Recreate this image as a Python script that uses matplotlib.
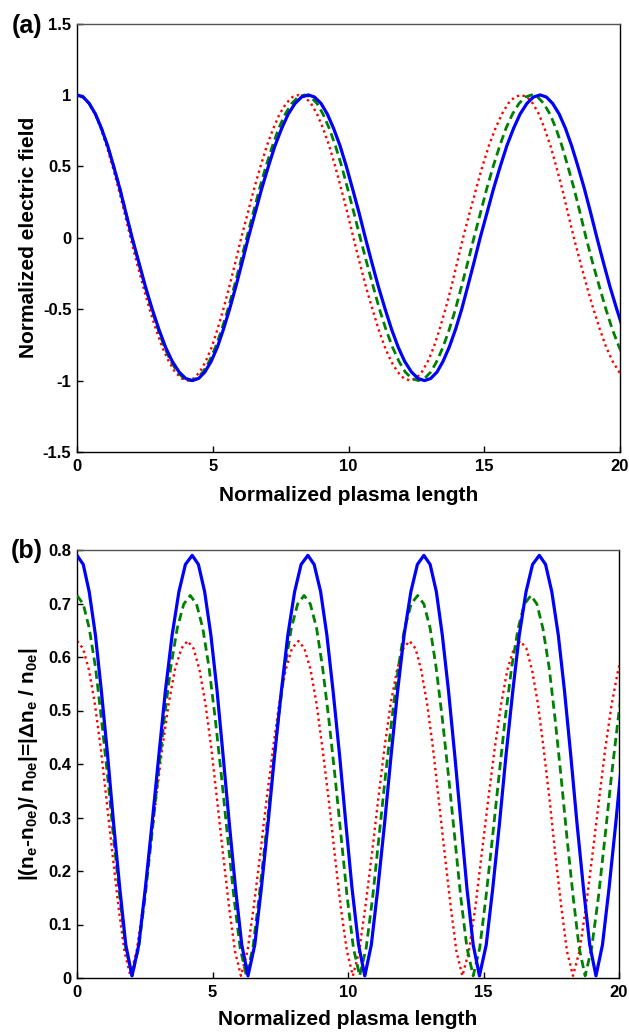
import matplotlib
matplotlib.use("Agg")
import matplotlib.pyplot as plt

plt.rcParams['font.family'] = ['Liberation Sans', 'DejaVu Sans']
plt.rcParams['mathtext.fontset'] = 'custom'
plt.rcParams['mathtext.rm'] = 'Liberation Sans:bold'
plt.rcParams['mathtext.it'] = 'Liberation Sans:bold'
plt.rcParams['mathtext.bf'] = 'Liberation Sans:bold'

# ---------------- data ----------------
x_ticks = [0, 5, 10, 15, 20]
ya_ticks = [-1.5, -1, -0.5, 0, 0.5, 1, 1.5]
ya_labels = ['-1.5', '-1', '-0.5', '0', '0.5', '1', '1.5']
yb_ticks = [0, 0.1, 0.2, 0.3, 0.4, 0.5, 0.6, 0.7, 0.8]
yb_labels = ['0', '0.1', '0.2', '0.3', '0.4', '0.5', '0.6', '0.7', '0.8']

blue_x = [0, 0.23, 0.45, 0.68, 0.90, 1.13, 1.35, 1.58, 1.80, 2.03,
          2.28, 2.52, 2.77, 3.02, 3.26, 3.51, 3.76, 4.00, 4.25,
          4.48, 4.71, 4.94, 5.17, 5.39, 5.62, 5.85, 6.08, 6.31,
          6.56, 6.80, 7.05, 7.29, 7.54, 7.78, 8.03, 8.27, 8.52,
          8.75, 8.99, 9.22, 9.45, 9.69, 9.92, 10.15, 10.39, 10.62,
          10.86, 11.10, 11.35, 11.59, 11.83, 12.07, 12.32, 12.56, 12.80,
          13.03, 13.26, 13.48, 13.71, 13.94, 14.17, 14.39, 14.62, 14.85,
          15.10, 15.34, 15.59, 15.83, 16.08, 16.32, 16.57, 16.81, 17.06,
          17.29, 17.52, 17.76, 17.99, 18.22, 18.45, 18.69, 18.92, 19.15,
          19.39, 19.63, 19.88, 20.12]
blue_field = [1, .985, .940, .866, .766, .643, .5, .342, .174, 0,
              -.174, -.342, -.5, -.643, -.766, -.866, -.940, -.985, -1,
              -.985, -.940, -.866, -.766, -.643, -.5, -.342, -.174, 0,
              .174, .342, .5, .643, .766, .866, .940, .985, 1,
              .985, .940, .866, .766, .643, .5, .342, .174, 0,
              -.174, -.342, -.5, -.643, -.766, -.866, -.940, -.985, -1,
              -.985, -.940, -.866, -.766, -.643, -.5, -.342, -.174, 0,
              .174, .342, .5, .643, .766, .866, .940, .985, 1,
              .985, .940, .866, .766, .643, .5, .342, .174, 0,
              -.174, -.342, -.5, -.643]
blue_dens = [0.790, 0.773, 0.722, 0.641, 0.536, 0.416, 0.289, 0.167, 0.062, 0.004,
             0.062, 0.167, 0.289, 0.416, 0.536, 0.641, 0.722, 0.773, 0.790,
             0.773, 0.722, 0.641, 0.536, 0.416, 0.289, 0.167, 0.062, 0.004,
             0.062, 0.167, 0.289, 0.416, 0.536, 0.641, 0.722, 0.773, 0.790,
             0.773, 0.722, 0.641, 0.536, 0.416, 0.289, 0.167, 0.062, 0.004,
             0.062, 0.167, 0.289, 0.416, 0.536, 0.641, 0.722, 0.773, 0.790,
             0.773, 0.722, 0.641, 0.536, 0.416, 0.289, 0.167, 0.062, 0.004,
             0.062, 0.167, 0.289, 0.416, 0.536, 0.641, 0.722, 0.773, 0.790,
             0.773, 0.722, 0.641, 0.536, 0.416, 0.289, 0.167, 0.062, 0.004,
             0.062, 0.167, 0.289, 0.416]

green_x = [0, 0.23, 0.45, 0.68, 0.90, 1.13, 1.35, 1.58, 1.80, 2.03,
           2.27, 2.51, 2.75, 2.99, 3.22, 3.46, 3.70, 3.94, 4.18,
           4.41, 4.64, 4.87, 5.10, 5.33, 5.56, 5.79, 6.02, 6.25,
           6.49, 6.72, 6.96, 7.20, 7.43, 7.67, 7.91, 8.14, 8.38,
           8.61, 8.84, 9.06, 9.29, 9.52, 9.75, 9.97, 10.20, 10.43,
           10.67, 10.91, 11.14, 11.38, 11.62, 11.86, 12.09, 12.33, 12.57,
           12.80, 13.03, 13.25, 13.48, 13.71, 13.94, 14.16, 14.39, 14.62,
           14.86, 15.09, 15.33, 15.57, 15.80, 16.04, 16.28, 16.51, 16.75,
           16.97, 17.19, 17.42, 17.64, 17.86, 18.08, 18.31, 18.53, 18.75,
           18.99, 19.24, 19.48, 19.72, 19.97, 20.21]
green_field = [1, .985, .940, .866, .766, .643, .5, .342, .174, 0,
               -.174, -.342, -.5, -.643, -.766, -.866, -.940, -.985, -1,
               -.985, -.940, -.866, -.766, -.643, -.5, -.342, -.174, 0,
               .174, .342, .5, .643, .766, .866, .940, .985, 1,
               .985, .940, .866, .766, .643, .5, .342, .174, 0,
               -.174, -.342, -.5, -.643, -.766, -.866, -.940, -.985, -1,
               -.985, -.940, -.866, -.766, -.643, -.5, -.342, -.174, 0,
               .174, .342, .5, .643, .766, .866, .940, .985, 1,
               .985, .940, .866, .766, .643, .5, .342, .174, 0,
               -.174, -.342, -.5, -.643, -.766, -.866]
green_dens = [0.715, 0.699, 0.654, 0.581, 0.485, 0.377, 0.262, 0.151, 0.056, 0.004,
              0.056, 0.151, 0.262, 0.377, 0.485, 0.581, 0.654, 0.699, 0.715,
              0.699, 0.654, 0.581, 0.485, 0.377, 0.262, 0.151, 0.056, 0.004,
              0.056, 0.151, 0.262, 0.377, 0.485, 0.581, 0.654, 0.699, 0.715,
              0.699, 0.654, 0.581, 0.485, 0.377, 0.262, 0.151, 0.056, 0.004,
              0.056, 0.151, 0.262, 0.377, 0.485, 0.581, 0.654, 0.699, 0.715,
              0.699, 0.654, 0.581, 0.485, 0.377, 0.262, 0.151, 0.056, 0.004,
              0.056, 0.151, 0.262, 0.377, 0.485, 0.581, 0.654, 0.699, 0.715,
              0.699, 0.654, 0.581, 0.485, 0.377, 0.262, 0.151, 0.056, 0.004,
              0.056, 0.151, 0.262, 0.377, 0.485, 0.581]

red_x = [0, 0.22, 0.44, 0.66, 0.88, 1.09, 1.31, 1.53, 1.75, 1.97,
         2.20, 2.44, 2.67, 2.91, 3.14, 3.38, 3.61, 3.85, 4.08,
         4.30, 4.52, 4.74, 4.96, 5.17, 5.39, 5.61, 5.83, 6.05,
         6.29, 6.52, 6.76, 6.99, 7.23, 7.46, 7.70, 7.93, 8.17,
         8.39, 8.62, 8.84, 9.06, 9.29, 9.51, 9.73, 9.96, 10.18,
         10.41, 10.64, 10.88, 11.11, 11.34, 11.57, 11.81, 12.04, 12.27,
         12.49, 12.70, 12.92, 13.14, 13.35, 13.57, 13.79, 14.00, 14.22,
         14.46, 14.70, 14.93, 15.17, 15.41, 15.65, 15.88, 16.12, 16.36,
         16.58, 16.79, 17.01, 17.22, 17.44, 17.65, 17.87, 18.08, 18.30,
         18.54, 18.78, 19.02, 19.26, 19.49, 19.73, 19.97, 20.21]
red_field = [1, .985, .940, .866, .766, .643, .5, .342, .174, 0,
             -.174, -.342, -.5, -.643, -.766, -.866, -.940, -.985, -1,
             -.985, -.940, -.866, -.766, -.643, -.5, -.342, -.174, 0,
             .174, .342, .5, .643, .766, .866, .940, .985, 1,
             .985, .940, .866, .766, .643, .5, .342, .174, 0,
             -.174, -.342, -.5, -.643, -.766, -.866, -.940, -.985, -1,
             -.985, -.940, -.866, -.766, -.643, -.5, -.342, -.174, 0,
             .174, .342, .5, .643, .766, .866, .940, .985, 1,
             .985, .940, .866, .766, .643, .5, .342, .174, 0,
             -.174, -.342, -.5, -.643, -.766, -.866, -.940, -.985]
red_dens = [0.630, 0.616, 0.576, 0.512, 0.428, 0.332, 0.231, 0.133, 0.050, 0.004,
            0.050, 0.133, 0.231, 0.332, 0.428, 0.512, 0.576, 0.616, 0.630,
            0.616, 0.576, 0.512, 0.428, 0.332, 0.231, 0.133, 0.050, 0.004,
            0.050, 0.133, 0.231, 0.332, 0.428, 0.512, 0.576, 0.616, 0.630,
            0.616, 0.576, 0.512, 0.428, 0.332, 0.231, 0.133, 0.050, 0.004,
            0.050, 0.133, 0.231, 0.332, 0.428, 0.512, 0.576, 0.616, 0.630,
            0.616, 0.576, 0.512, 0.428, 0.332, 0.231, 0.133, 0.050, 0.004,
            0.050, 0.133, 0.231, 0.332, 0.428, 0.512, 0.576, 0.616, 0.630,
            0.616, 0.576, 0.512, 0.428, 0.332, 0.231, 0.133, 0.050, 0.004,
            0.050, 0.133, 0.231, 0.332, 0.428, 0.512, 0.576, 0.616]

# ---------------- figure ----------------
W, H = 629, 1033
fig = plt.figure(figsize=(W / 100, H / 100), dpi=100)

def px_axes(left, top, right, bottom):
    return fig.add_axes([left / W, 1 - bottom / H, (right - left) / W, (bottom - top) / H])

axA = px_axes(77, 23.5, 620, 452)
axB = px_axes(77, 550, 619, 978)

blue_style = dict(color='#0000ff', lw=2.3, ls='-', zorder=4)
green_style = dict(color='#008000', lw=2.0, ls=(0, (3.0, 1.7)), zorder=3)
red_style = dict(color='#ff0000', lw=1.7, ls=(0, (1, 1.5)), zorder=2)

axA.plot(red_x, red_field, **red_style)
axA.plot(green_x, green_field, **green_style)
axA.plot(blue_x, blue_field, **blue_style)

axB.plot(red_x, red_dens, **red_style)
axB.plot(green_x, green_dens, **green_style)
axB.plot(blue_x, blue_dens, **blue_style)

axA.set_ylim(-1.5, 1.5)
axA.set_yticks(ya_ticks)
axA.set_yticklabels(ya_labels)
axB.set_ylim(0, 0.8)
axB.set_yticks(yb_ticks)
axB.set_yticklabels(yb_labels)

for ax in (axA, axB):
    ax.set_xlim(0, 20)
    ax.set_xticks(x_ticks)
    ax.set_xticklabels([str(v) for v in x_ticks])
    ax.tick_params(direction='in', length=4, width=1.0, top=False, right=False)
    ax.tick_params(axis='x', pad=5)
    ax.tick_params(axis='y', pad=4)
    for lab in ax.get_xticklabels() + ax.get_yticklabels():
        lab.set_fontweight('bold')
        lab.set_fontsize(12)
    for s in ('left', 'bottom', 'right'):
        ax.spines[s].set_linewidth(1.0)
        ax.spines[s].set_color('black')
    ax.spines['top'].set_linewidth(1.0)
    ax.spines['top'].set_color('#555555')

axA.set_xlabel('Normalized plasma length', fontsize=15, fontweight='bold')
axA.xaxis.set_label_coords(0.5, -0.079)
axA.set_ylabel('Normalized electric field', fontsize=15, fontweight='bold')
axA.yaxis.set_label_coords(-0.072, 0.5)

axB.set_xlabel('Normalized plasma length', fontsize=15, fontweight='bold')
axB.xaxis.set_label_coords(0.5, -0.075)
axB.set_ylabel(r'|(n$_e$-n$_{0e}$)/ n$_{0e}$|=|Δn$_e$ / n$_{0e}$|',
               fontsize=15, fontweight='bold')
axB.yaxis.set_label_coords(-0.068, 0.5)

fig.text(27 / W, 1 - 26 / H, '(a)', fontsize=18, fontweight='bold', ha='center', va='center')
fig.text(27 / W, 1 - 551 / H, '(b)', fontsize=18, fontweight='bold', ha='center', va='center')

fig.savefig('out.png', dpi=100)
